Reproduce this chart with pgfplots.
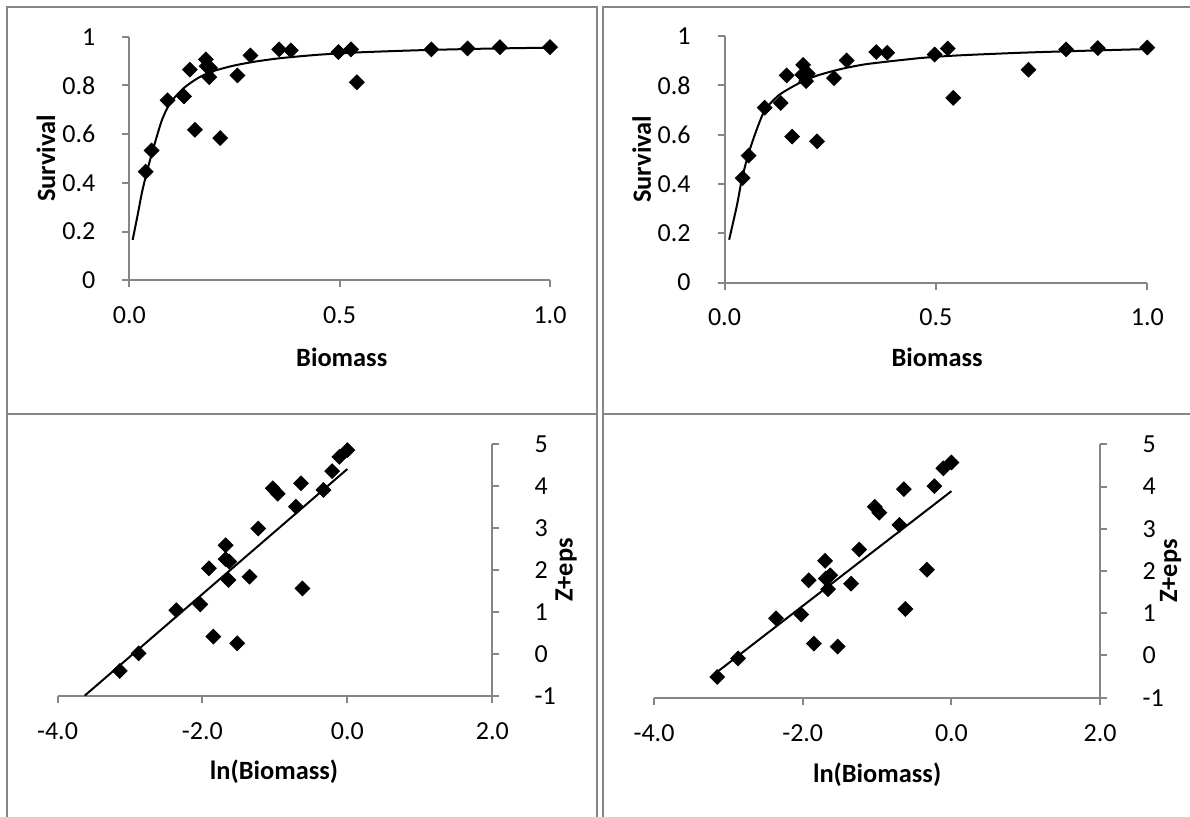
\documentclass[border=0pt]{standalone}
\usepackage{pgfplots}
\pgfplotsset{compat=1.18}
\usepackage{fontspec}
\setmainfont{Carlito}
\definecolor{axgray}{RGB}{134,134,134}

\pgfplotstableread{
x y
0.039 0.446
0.053 0.533
0.091 0.739
0.130 0.755
0.144 0.865
0.156 0.618
0.182 0.907
0.184 0.879
0.192 0.872
0.190 0.834
0.216 0.584
0.257 0.841
0.288 0.923
0.356 0.948
0.384 0.944
0.497 0.937
0.527 0.948
0.541 0.813
0.718 0.948
0.804 0.952
0.881 0.957
1.000 0.957
}\ptsA

\pgfplotstableread{
x y
0.008 0.166
0.020 0.270
0.030 0.360
0.041 0.440
0.056 0.535
0.077 0.655
0.097 0.728
0.130 0.790
0.165 0.832
0.200 0.859
0.250 0.882
0.300 0.898
0.360 0.912
0.450 0.926
0.550 0.936
0.700 0.945
0.850 0.951
1.000 0.955
}\fitA

\pgfplotstableread{
x y
0.043 0.424
0.057 0.515
0.095 0.709
0.133 0.728
0.147 0.840
0.160 0.592
0.186 0.883
0.184 0.843
0.197 0.847
0.193 0.817
0.219 0.573
0.259 0.829
0.289 0.901
0.359 0.935
0.385 0.932
0.497 0.925
0.528 0.949
0.541 0.749
0.719 0.863
0.808 0.946
0.883 0.951
1.000 0.953
}\ptsB

\pgfplotstableread{
x y
0.011 0.174
0.029 0.310
0.041 0.418
0.056 0.519
0.076 0.620
0.096 0.701
0.130 0.762
0.180 0.812
0.220 0.840
0.273 0.865
0.336 0.886
0.460 0.910
0.550 0.921
0.700 0.932
0.850 0.940
1.000 0.947
}\fitB

\pgfplotstableread{
x y
-3.14 -0.41
-2.88 0.01
-2.36 1.04
-2.03 1.18
-1.91 2.04
-1.85 0.41
-1.68 2.59
-1.68 2.26
-1.63 2.20
-1.64 1.76
-1.52 0.25
-1.35 1.84
-1.23 2.99
-1.03 3.95
-0.96 3.82
-0.71 3.51
-0.64 4.07
-0.62 1.56
-0.33 3.91
-0.21 4.36
-0.11 4.70
0.00 4.86
}\ptsC

\pgfplotstableread{
x y
-3.625 -1.00
0.000 4.41
}\fitC

\pgfplotstableread{
x y
-3.15 -0.51
-2.87 -0.07
-2.36 0.88
-2.02 0.97
-1.92 1.78
-1.85 0.28
-1.70 2.24
-1.69 1.82
-1.63 1.90
-1.66 1.57
-1.53 0.21
-1.35 1.70
-1.24 2.51
-1.03 3.52
-0.97 3.38
-0.70 3.09
-0.64 3.94
-0.62 1.10
-0.33 2.03
-0.23 4.01
-0.11 4.43
0.00 4.57
}\ptsD

\pgfplotstableread{
x y
-3.15 -0.39
0.00 3.89
}\fitD

\pgfplotsset{
  excel/.style={
    scale only axis,
    anchor=south west,
    axis line style={axgray, line width=1pt},
    every tick/.style={axgray, line width=1pt},
    tick align=outside,
    major tick length=3.5pt,
    tick label style={font=\fontsize{13}{15}\selectfont, text=black, inner sep=0pt},
    label style={font=\bfseries\fontsize{13.2}{16}\selectfont, text=black},
    xticklabel style={anchor=base, yshift=-18.2pt},
  },
  dia/.style={only marks, mark=square*, mark size=2.6pt,
    mark options={rotate=45, fill=black, draw=black}},
  fitline/.style={black, line width=1pt, mark=none, smooth, tension=0.4},
}

\begin{document}
\begin{tikzpicture}
\path[use as bounding box] (0,0) rectangle (595pt,408.5pt);

% frames
\begin{scope}[axgray, line width=1pt]
\draw (3.5pt,0) -- (3.5pt,405pt) -- (298.5pt,405pt) -- (298.5pt,0);
\draw (301.5pt,0) -- (301.5pt,405pt) -- (595pt,405pt);
\draw (3.5pt,201.5pt) -- (298.5pt,201.5pt);
\draw (301.5pt,201.5pt) -- (595pt,201.5pt);
\end{scope}

% panel 1
\begin{axis}[excel, at={(64.65pt,268.3pt)}, width=210.35pt, height=121.85pt,
  axis x line*=bottom, axis y line*=left,
  xmin=0, xmax=1, ymin=0, ymax=1,
  xtick={0,0.5,1}, xticklabels={0.0,0.5,1.0},
  ytick={0,0.2,0.4,0.6,0.8,1}, yticklabels={0,0.2,0.4,0.6,0.8,1},
  yticklabel style={anchor=east, xshift=-13.3pt},
  xlabel={Biomass}, ylabel={Survival},
  xlabel style={at={(axis description cs:0.505,-0.314)}, anchor=center},
  ylabel style={at={(axis description cs:-0.198,0.5)}, anchor=center},
]
\addplot[fitline] table {\fitA};
\addplot[dia] table {\ptsA};
\end{axis}

% panel 2
\begin{axis}[excel, at={(362.25pt,267.2pt)}, width=211.4pt, height=123.3pt,
  axis x line*=bottom, axis y line*=left,
  xmin=0, xmax=1, ymin=0, ymax=1,
  xtick={0,0.5,1}, xticklabels={0.0,0.5,1.0},
  ytick={0,0.2,0.4,0.6,0.8,1}, yticklabels={0,0.2,0.4,0.6,0.8,1},
  yticklabel style={anchor=east, xshift=-13.3pt},
  xlabel={Biomass}, ylabel={Survival},
  xlabel style={at={(axis description cs:0.503,-0.304)}, anchor=center},
  ylabel style={at={(axis description cs:-0.196,0.5)}, anchor=center},
]
\addplot[fitline] table {\fitB};
\addplot[dia] table {\ptsB};
\end{axis}

% panel 3
\begin{axis}[excel, at={(28.75pt,60.65pt)}, width=217.4pt, height=125.7pt,
  axis x line*=bottom, axis y line*=right,
  xmin=-4, xmax=2, ymin=-1, ymax=5,
  xtick={-4,-2,0,2}, xticklabels={-4.0,-2.0,0.0,2.0},
  ytick={-1,0,1,2,3,4,5}, yticklabels={-1,0,1,2,3,4,5},
  yticklabel style={anchor=west, xshift=17.5pt},
  xlabel={ln(Biomass)}, ylabel={Z+eps},
  xlabel style={at={(axis description cs:0.498,-0.302)}, anchor=center},
  ylabel style={at={(axis description cs:1.17,0.5)}, anchor=center},
]
\addplot[black, line width=1pt, mark=none] table {\fitC};
\addplot[dia] table {\ptsC};
\end{axis}

% panel 4
\begin{axis}[excel, at={(327pt,59.65pt)}, width=223.1pt, height=126.7pt,
  axis x line*=bottom, axis y line*=right,
  xmin=-4, xmax=2, ymin=-1, ymax=5,
  xtick={-4,-2,0,2}, xticklabels={-4.0,-2.0,0.0,2.0},
  ytick={-1,0,1,2,3,4,5}, yticklabels={-1,0,1,2,3,4,5},
  yticklabel style={anchor=west, xshift=17.5pt},
  xlabel={ln(Biomass)}, ylabel={Z+eps},
  xlabel style={at={(axis description cs:0.5,-0.305)}, anchor=center},
  ylabel style={at={(axis description cs:1.158,0.5)}, anchor=center},
]
\addplot[black, line width=1pt, mark=none] table {\fitD};
\addplot[dia] table {\ptsD};
\end{axis}
\end{tikzpicture}
\end{document}
